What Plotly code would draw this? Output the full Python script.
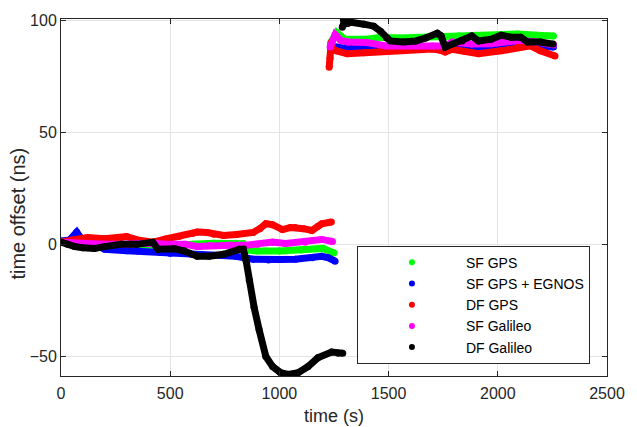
import plotly.graph_objects as go

# Time offset of each receiver solution; None splits the two recording sessions
sf_gps_t = [0, 100, 200, 300, 400, 500, 600, 700, 800, 835, 850, 900, 1000, 1100, 1200, 1250,
            None,
            1235, 1262, 1280, 1300, 1400, 1463, 1550, 1650, 1750, 1822, 1900, 2000, 2092, 2180, 2255]
sf_gps_v = [1, 0.5, -0.5, -1, -0.5, -0.5, 0, 0.5, 0.5, 0.3, -2.5, -3, -3, -2.5, -1.8, -3.8,
            None,
            90, 94.5, 93, 91.5, 91.5, 92.4, 92, 92.3, 92.5, 92.9, 93.3, 93.3, 93.8, 93.3, 92.9]

sf_egnos_t = [0, 40, 72, 90, 110, 150, 200, 300, 350, 450, 500, 600, 700, 800, 880, 950, 1000,
              1073, 1150, 1194, 1225, 1255,
              None,
              1235, 1260, 1300, 1400, 1500, 1600, 1700, 1800, 1900, 2000, 2092, 2200, 2255]
sf_egnos_v = [1.5, 2, 5.5, 3, 2, 0, -2.2, -2.8, -3, -3.5, -4, -4.5, -5, -5.3, -6.6, -7, -6.8,
              -6.6, -6, -5.3, -6, -7.5,
              None,
              87, 88, 87.5, 87.5, 87.5, 87.5, 87.5, 87.5, 87.5, 88, 89, 88.5, 88]

df_gps_t = [0, 50, 121, 200, 274, 300, 350, 422, 480, 540, 601, 624, 669, 700, 745, 803, 880,
            910, 938, 968, 1014, 1050, 1073, 1110, 1149, 1175, 1194, 1238,
            None,
            1228, 1232, 1237, 1245, 1261, 1311, 1387, 1463, 1535, 1611, 1701, 1740, 1759, 1791,
            1850, 1912, 2015, 2092, 2150, 2195, 2262]
df_gps_v = [1, 2, 3, 2.5, 3, 3.5, 2, 1, 2.4, 3.5, 4.8, 5.5, 5.3, 4.5, 4, 4.4, 5.3,
            7, 9.2, 8.8, 6.6, 7.5, 7.5, 7, 6.2, 8, 9.2, 10,
            None,
            79, 83, 90, 87, 86.3, 85, 85.4, 86.3, 86.3, 87.1, 87.1, 86.5, 85.8, 87,
            86, 85, 86.3, 88, 88.5, 86.3, 84]

sf_gal_t = [0, 60, 121, 200, 274, 350, 422, 500, 570, 624, 678, 772, 848, 900, 969, 1028, 1118,
            1194, 1243,
            None,
            1232, 1243, 1255, 1261, 1280, 1311, 1400, 1490, 1600, 1700, 1759, 1791, 1881, 1970,
            2015, 2105, 2195, 2255]
sf_gal_v = [1, 0.5, 0, 0, 0, 0.5, 0.5, 0, 0, -1, -0.5, -0.4, -0.4, 0, 1, 0.4, 1,
            2.2, 1.3,
            None,
            88, 90.7, 93.5, 92.9, 91, 90.2, 90, 88.5, 88.5, 88.5, 88.5, 90.2, 89.3, 89.5,
            90.2, 91, 90, 89]

df_gal_t = [0, 30, 63, 100, 153, 200, 274, 346, 420, 444, 520, 565, 624, 678, 745, 817, 835,
            848, 862, 884, 907, 938, 969, 1005, 1041, 1086, 1131, 1176, 1239, 1270, 1290,
            None,
            1288, 1293, 1300, 1310, 1329, 1387, 1432, 1463, 1490, 1508, 1566, 1625, 1670, 1723,
            1740, 1759, 1791, 1836, 1881, 1912, 1970, 2015, 2060, 2105, 2136, 2195, 2253]
df_gal_v = [1, 0, -1, -1.5, -1.8, -1, 0, 0, 1, -2.2, -2, -3, -5.3, -5.3, -4.4, -2.2, -2.2,
            -7.5, -16, -28, -38, -50, -54.5, -57.2, -58, -57.2, -54.5, -50.6, -48, -48.5, -48.5,
            None,
            96.8, 100, 100, 98.5, 99, 98.2, 97.3, 95, 92, 90.7, 90.2, 90.7, 92, 94.2,
            93, 88, 89.3, 90.7, 92.9, 90.7, 91.5, 93.3, 92.4, 92.4, 90.2, 90.2, 89.3]

series_names = ["SF GPS", "SF GPS + EGNOS", "DF GPS", "SF Galileo", "DF Galileo"]
series_colors = ["#00ff00", "#0000ff", "#ff0000", "#ff00ff", "#000000"]
series_t = [sf_gps_t, sf_egnos_t, df_gps_t, sf_gal_t, df_gal_t]
series_v = [sf_gps_v, sf_egnos_v, df_gps_v, sf_gal_v, df_gal_v]

x_ticks = [0, 500, 1000, 1500, 2000, 2500]
y_ticks = [-50, 0, 50, 100]

FONT = "Liberation Sans, Arial, sans-serif"
INK = "#262626"

fig = go.Figure()

for name, color, t, v in zip(series_names, series_colors, series_t, series_v):
    fig.add_trace(go.Scatter(
        x=t, y=v, mode="lines+markers", name=name, showlegend=False,
        line=dict(color=color, width=7),
        marker=dict(color=color, size=7),
        connectgaps=False, hoverinfo="skip",
    ))

# Dot-only legend entries
for name, color in zip(series_names, series_colors):
    fig.add_trace(go.Scatter(
        x=[None], y=[None], mode="markers", name=name,
        marker=dict(color=color, size=6),
    ))

axis_common = dict(
    showline=True, linecolor=INK, linewidth=1, mirror="ticks",
    ticks="inside", ticklen=5, tickcolor=INK,
    showgrid=True, gridcolor="#e3e3e3", gridwidth=1, zeroline=False,
    tickfont=dict(family=FONT, size=16, color=INK),
)

fig.update_layout(
    width=637, height=427,
    margin=dict(l=61, r=19, t=14, b=51),
    paper_bgcolor="white", plot_bgcolor="white",
    font=dict(family=FONT, color=INK),
    xaxis=dict(range=[0, 2500], tickvals=x_ticks, ticklabelstandoff=3, **axis_common),
    yaxis=dict(range=[-58.7, 100.5], tickvals=y_ticks, **axis_common),
    legend=dict(
        x=0.542, y=0.365, xanchor="left", yanchor="top",
        bgcolor="white", bordercolor=INK, borderwidth=1,
        font=dict(family=FONT, size=14, color="#000000"),
        itemwidth=98,
    ),
    annotations=[
        dict(text="time (s)", xref="paper", yref="paper", x=0.5, y=-0.113,
             xanchor="center", yanchor="middle", showarrow=False,
             font=dict(family=FONT, size=18, color=INK)),
        dict(text="time offset (ns)", xref="paper", yref="paper", x=-0.078, y=0.456,
             xanchor="center", yanchor="middle", textangle=-90, showarrow=False,
             font=dict(family=FONT, size=20, color=INK)),
    ],
)

fig.write_html("out.html")
